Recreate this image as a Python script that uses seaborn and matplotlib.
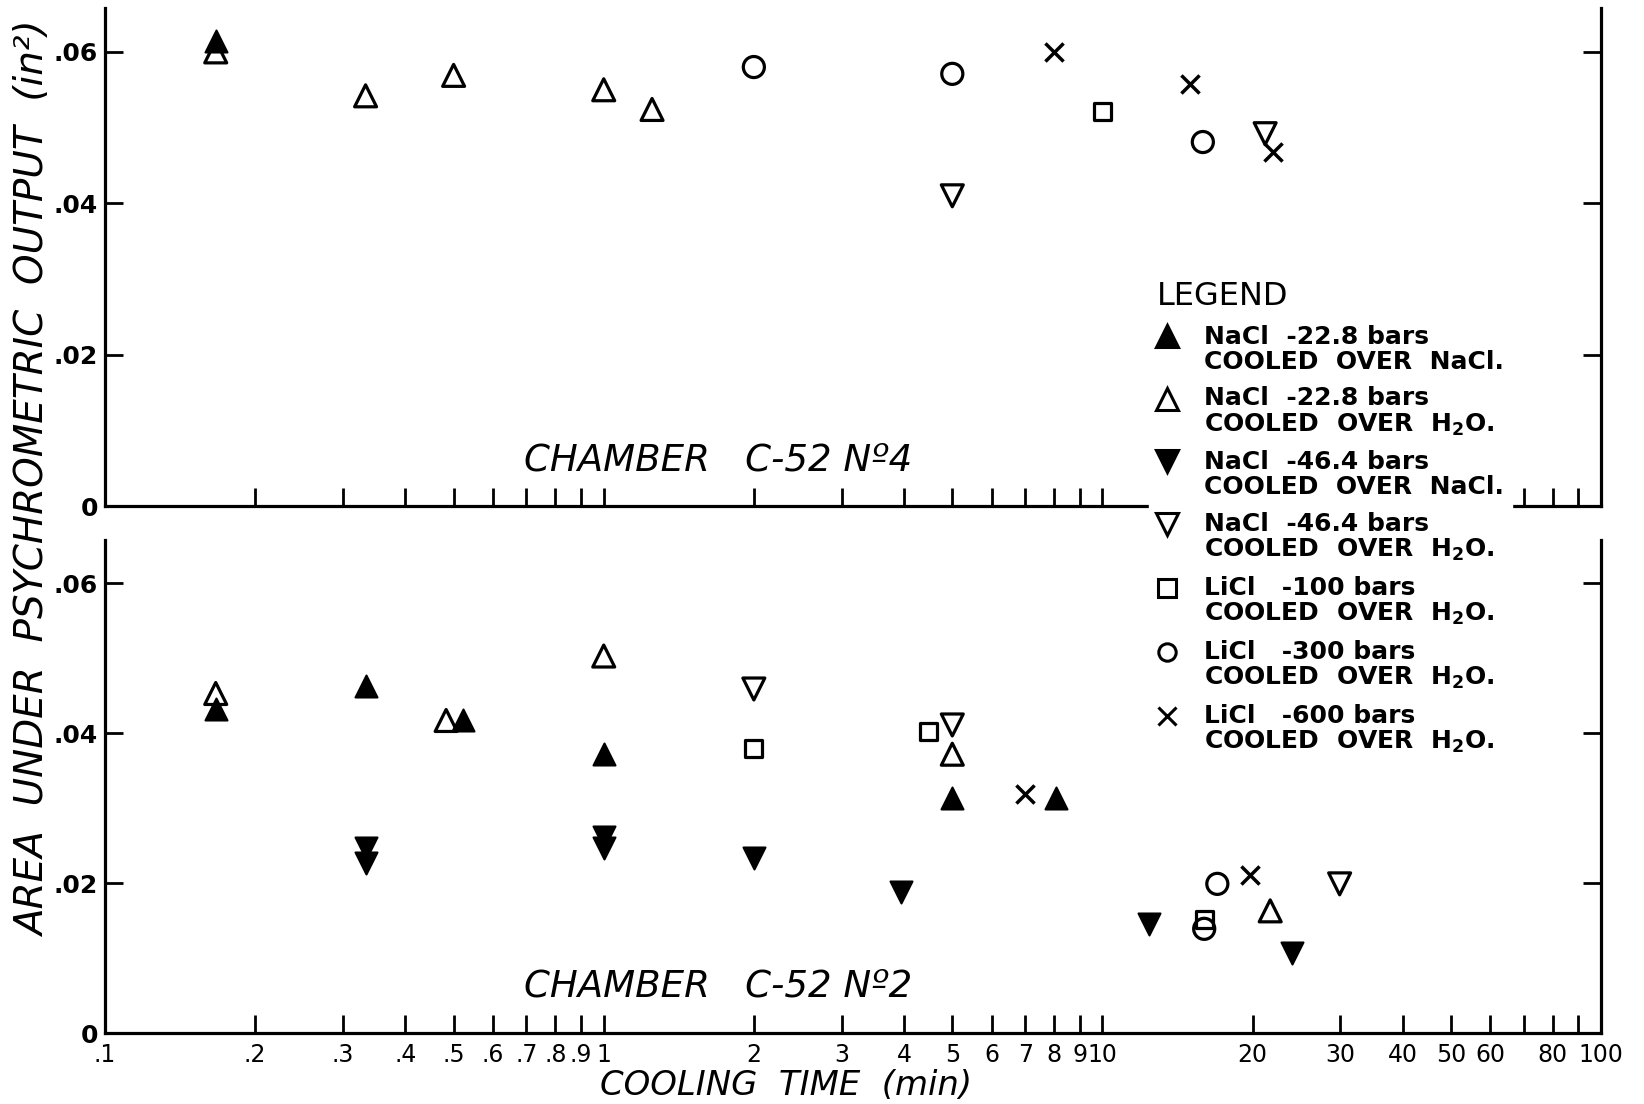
import matplotlib
matplotlib.use("Agg")
import matplotlib.pyplot as plt
import matplotlib.ticker as mticker
from matplotlib.lines import Line2D
from matplotlib.legend_handler import HandlerLine2D
import seaborn as sns

# cooling time (min) and area under psychrometric output (in^2)
# series: A = NaCl -22.8 over NaCl, B = NaCl -22.8 over H2O,
#         C = NaCl -46.4 over NaCl, D = NaCl -46.4 over H2O,
#         E = LiCl -100, F = LiCl -300, G = LiCl -600

# chamber C-52 No 4 (top)
top_a_x = [0.1667]
top_a_y = [0.0614]
top_b_x = [0.1667, 0.333, 0.5, 1.0, 1.25]
top_b_y = [0.0600, 0.0542, 0.0569, 0.0550, 0.0524]
top_c_x = []
top_c_y = []
top_d_x = [5.0, 21.2]
top_d_y = [0.0410, 0.0492]
top_e_x = [10.0]
top_e_y = [0.0521]
top_f_x = [2.0, 5.0, 15.9]
top_f_y = [0.0580, 0.0571, 0.0481]
top_g_x = [8.0, 15.0, 22.0]
top_g_y = [0.0600, 0.0558, 0.0468]

# chamber C-52 No 2 (bottom)
bot_a_x = [0.1667, 0.333, 0.522, 1.0, 5.0, 8.07]
bot_a_y = [0.0432, 0.0463, 0.0417, 0.0372, 0.0314, 0.0314]
bot_b_x = [0.1667, 0.483, 1.0, 5.0, 21.7]
bot_b_y = [0.0453, 0.0417, 0.0503, 0.0372, 0.0163]
bot_c_x = [0.333, 0.333, 1.0, 1.0, 2.0, 3.94, 12.4, 24.0]
bot_c_y = [0.0247, 0.0227, 0.0262, 0.0247, 0.0233, 0.0188, 0.0146, 0.0107]
bot_d_x = [2.0, 5.0, 29.9]
bot_d_y = [0.0459, 0.0411, 0.0199]
bot_e_x = [2.0, 4.49, 16.0]
bot_e_y = [0.0379, 0.0402, 0.0152]
bot_f_x = [16.0, 17.0]
bot_f_y = [0.0139, 0.0199]
bot_g_x = [7.0, 19.8]
bot_g_y = [0.0319, 0.0211]

legend_labels = [
    'NaCl  -22.8 bars\nCOOLED  OVER  NaCl.',
    'NaCl  -22.8 bars\nCOOLED  OVER  H$_2$O.',
    'NaCl  -46.4 bars\nCOOLED  OVER  NaCl.',
    'NaCl  -46.4 bars\nCOOLED  OVER  H$_2$O.',
    'LiCl   -100 bars\nCOOLED  OVER  H$_2$O.',
    'LiCl   -300 bars\nCOOLED  OVER  H$_2$O.',
    'LiCl   -600 bars\nCOOLED  OVER  H$_2$O.',
]

x_ticks = [0.1, 0.2, 0.3, 0.4, 0.5, 0.6, 0.7, 0.8, 0.9,
           1, 2, 3, 4, 5, 6, 7, 8, 9,
           10, 20, 30, 40, 50, 60, 70, 80, 90, 100]
x_tick_labels = ['.1', '.2', '.3', '.4', '.5', '.6', '.7', '.8', '.9',
                 '1', '2', '3', '4', '5', '6', '7', '8', '9',
                 '10', '20', '30', '40', '50', '60', '', '80', '', '100']
y_ticks = [0, 0.02, 0.04, 0.06]
y_tick_labels = ['0', '.02', '.04', '.06']

sns.set_style('ticks')
plt.rcParams['font.family'] = ['DejaVu Sans']
plt.rcParams['mathtext.default'] = 'regular'
for key in ['text.color', 'axes.labelcolor', 'xtick.color', 'ytick.color', 'axes.edgecolor']:
    plt.rcParams[key] = 'black'

styles = {
    'a': dict(marker='^', s=250, color='black', edgecolor='black', linewidth=1.5),
    'b': dict(marker='^', s=250, color='black', facecolor='none', edgecolor='black', linewidth=2.3),
    'c': dict(marker='v', s=250, color='black', edgecolor='black', linewidth=1.5),
    'd': dict(marker='v', s=250, color='black', facecolor='none', edgecolor='black', linewidth=2.3),
    'e': dict(marker='s', s=150, color='black', facecolor='none', edgecolor='black', linewidth=2.3),
    'f': dict(marker='o', s=230, color='black', facecolor='none', edgecolor='black', linewidth=2.3),
    'g': dict(marker='x', s=170, color='black', linewidth=2.5),
}

fig = plt.figure(figsize=(16.44, 11.04), dpi=100)
ax_top = fig.add_axes([0.0639, 0.5413, 0.9100, 0.4515])
ax_bot = fig.add_axes([0.0639, 0.0643, 0.9100, 0.4467])

top_data = {'a': (top_a_x, top_a_y), 'b': (top_b_x, top_b_y), 'c': (top_c_x, top_c_y),
            'd': (top_d_x, top_d_y), 'e': (top_e_x, top_e_y), 'f': (top_f_x, top_f_y),
            'g': (top_g_x, top_g_y)}
bot_data = {'a': (bot_a_x, bot_a_y), 'b': (bot_b_x, bot_b_y), 'c': (bot_c_x, bot_c_y),
            'd': (bot_d_x, bot_d_y), 'e': (bot_e_x, bot_e_y), 'f': (bot_f_x, bot_f_y),
            'g': (bot_g_x, bot_g_y)}

for ax, data in [(ax_top, top_data), (ax_bot, bot_data)]:
    for key, (xs, ys) in data.items():
        if len(xs):
            sns.scatterplot(x=xs, y=ys, ax=ax, zorder=3, clip_on=False, **styles[key])

    ax.set_xscale('log')
    ax.set_xlim(0.1, 100)
    ax.set_ylim(0, 0.0658)
    ax.xaxis.set_major_locator(mticker.FixedLocator(x_ticks))
    ax.xaxis.set_minor_locator(mticker.NullLocator())
    ax.yaxis.set_major_locator(mticker.FixedLocator(y_ticks))
    ax.set_yticklabels(y_tick_labels, fontweight='bold')
    ax.spines['top'].set_visible(False)
    for side in ['left', 'right', 'bottom']:
        ax.spines[side].set_linewidth(2.3)
    ax.tick_params(axis='x', direction='in', length=13, width=2.0, labelsize=17, pad=7)
    ax.tick_params(axis='y', direction='in', length=13, width=2.0, labelsize=18, pad=5,
                   right=True)
    ax.set_xlabel('')
    ax.set_ylabel('')

ax_top.set_xticklabels([])
ax_bot.set_xticklabels(x_tick_labels)

chamber_font = dict(fontsize=26.7, style='italic', va='center', ha='left')
ax_top.text(0.28, 0.094, 'CHAMBER   C-52 N\u00ba4', transform=ax_top.transAxes, **chamber_font)
ax_bot.text(0.28, 0.096, 'CHAMBER   C-52 N\u00ba2', transform=ax_bot.transAxes, **chamber_font)

fig.text(0.021, 0.566, 'AREA  UNDER  PSYCHROMETRIC  OUTPUT  (in\u00b2)', rotation=90,
         fontsize=28, style='italic', ha='center', va='center')
fig.text(0.478, 0.017, 'COOLING  TIME  (min)', fontsize=24.4, style='italic',
         ha='center', va='center')


class FirstLineHandler(HandlerLine2D):
    # put the marker next to the first line of a two-line label
    def create_artists(self, legend, orig_handle, xdescent, ydescent, width, height,
                       fontsize, trans):
        return super().create_artists(legend, orig_handle, xdescent, ydescent - 1.15 * fontsize,
                                      width, height, fontsize, trans)


proxy_style = [('^', 'black'), ('^', 'white'), ('v', 'black'), ('v', 'white'),
               ('s', 'white'), ('o', 'white'), ('x', 'black')]
handles = []
for marker, face in proxy_style:
    ms = 16 if marker in '^v' else 12.5
    handles.append(Line2D([], [], ls='none', marker=marker, ms=ms, mfc=face,
                          mec='black', mew=2.2))

leg = fig.legend(handles, legend_labels, loc='upper left', bbox_to_anchor=(0.699, 0.752),
                 title='LEGEND', title_fontsize=23, alignment='left',
                 prop={'size': 18, 'weight': 'bold'},
                 frameon=True, facecolor='white', edgecolor='white', framealpha=1,
                 fancybox=False, borderpad=0.3, borderaxespad=0, handlelength=0.85,
                 handletextpad=1.05, labelspacing=0.5, markerscale=1,
                 handler_map={Line2D: FirstLineHandler()})
for t in leg.get_texts():
    t.set_linespacing(1.06)

fig.savefig('out.png', dpi=100, facecolor='white')
